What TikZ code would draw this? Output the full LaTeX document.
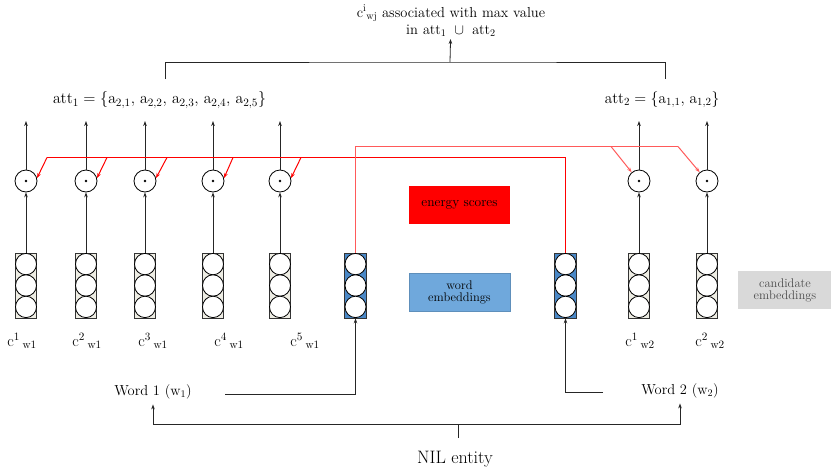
\RequirePackage{fix-cm}
\documentclass[tikz,border=0pt]{standalone}
\usetikzlibrary{arrows.meta}

\definecolor{cellbeige}{HTML}{EEEDE4}
\definecolor{embblue}{HTML}{4A88C7}
\definecolor{boxblue}{HTML}{6FA8DC}
\definecolor{boxgray}{HTML}{D9D9D9}
\definecolor{energyred}{HTML}{FF0000}
\definecolor{energypale}{HTML}{FF5A5A}

\newcommand\fsz[1]{\fontsize{#1}{1.2\dimexpr#1pt\relax}\selectfont}

\tikzset{
  every node/.style={inner sep=2pt},
  vecrect/.style={draw=black!80, line width=0.8pt, minimum width=21.5pt, minimum height=65pt, inner sep=0pt},
  cell/.style={draw=black, fill=white, line width=0.8pt},
  prod/.style={draw=black, circle, minimum size=22pt, inner sep=0pt, line width=0.8pt},
  arr/.style={draw=black!85, line width=0.8pt, -{Stealth[length=5pt,width=3.6pt]}},
  plain/.style={draw=black!85, line width=0.8pt},
  energy/.style={draw=energyred, line width=1pt},
  energytip/.style={energy, -{Stealth[length=5pt,width=3.6pt]}},
  energylight/.style={draw=energypale, line width=1pt},
  legend/.style={minimum width=101pt, minimum height=38pt, align=center, inner sep=0pt},
  clabel/.style={font=\fsz{16}},
}

\begin{document}
\begin{tikzpicture}[x=1pt, y=-1pt]
\useasboundingbox (0,0) rectangle (831,472);

% embedding stacks: three cells per vector
\foreach \n/\x/\f in {s1/26/cellbeige, s2/86/cellbeige, s3/145/cellbeige, s4/213/cellbeige,
                      s5/280/cellbeige, b1/355.5/embblue, b2/565.5/embblue, s6/639/cellbeige, s7/707/cellbeige} {
  \node[vecrect, fill=\f] (\n) at (\x,285.5) {};
  \foreach \k in {-1,0,1}
    \draw[cell] (\x,285.5+\k*21.4) ellipse [x radius=10.5pt, y radius=10.7pt];
}

% product nodes and their outputs
\foreach \i/\x in {1/26, 2/86, 3/145, 4/213, 5/280, 6/639, 7/707} {
  \node[prod] (o\i) at (\x,181) {};
  \fill (o\i.center) circle (1.4pt);
  \coordinate (t\i) at (\x,121);
  \draw[arr] (o\i) -- (t\i);
}
\draw[arr] (s1) -- (o1);
\draw[arr] (s2) -- (o2);
\draw[arr] (s3) -- (o3);
\draw[arr] (s4) -- (o4);
\draw[arr] (s5) -- (o5);
\draw[arr] (s6) -- (o6);
\draw[arr] (s7) -- (o7);

% candidate labels
\node[clabel] (c1) at (22,341) {c$^{1}\,$$_{\mathrm{w1}}$};
\node[clabel] (c2) at (87,341) {c$^{2}\,$$_{\mathrm{w1}}$};
\node[clabel] (c3) at (153,341) {c$^{3}\,$$_{\mathrm{w1}}$};
\node[clabel] (c4) at (229,341) {c$^{4}\,$$_{\mathrm{w1}}$};
\node[clabel] (c5) at (305,341) {c$^{5}\,$$_{\mathrm{w1}}$};
\node[clabel] (c6) at (640,341) {c$^{1}\,$$_{\mathrm{w2}}$};
\node[clabel] (c7) at (710,341) {c$^{2}\,$$_{\mathrm{w2}}$};

% energy scores from word 2 onto the candidates of word 1
\coordinate (r1) at (47,157.5);
\coordinate (r2) at (107,157.5);
\coordinate (r3) at (167,157.5);
\coordinate (r4) at (233,157.5);
\coordinate (r5) at (301,157.5);
\draw[energy] (b2.north) |- (r1);
\draw[energytip] (r1) -- (o1.15);
\draw[energytip] (r2) -- (o2.15);
\draw[energytip] (r3) -- (o3.15);
\draw[energytip] (r4) -- (o4.15);
\draw[energytip] (r5) -- (o5.15);

% energy scores from word 1 onto the candidates of word 2
\coordinate (u1) at (611,146.5);
\coordinate (u2) at (678,146.5);
\draw[energylight] (b1.north) |- (u2);
\draw[energylight, -{Stealth[length=5pt,width=3.6pt]}] (u2) -- (o7.130);
\draw[energylight, -{Stealth[length=5pt,width=3.6pt]}] (u1) -- (o6.130);

% attention sets
\node[font=\fsz{16}] (att1) at (159.5,100)
  {$\mathrm{att}_1 = \{\mathrm{a}_{2,1}{,}\ \mathrm{a}_{2,2}{,}\ \mathrm{a}_{2,3}{,}\ \mathrm{a}_{2,4}{,}\ \mathrm{a}_{2,5}\}$};
\node[font=\fsz{15.6}] (att2) at (662,100)
  {$\mathrm{att}_2 = \{\mathrm{a}_{1,1}{,}\ \mathrm{a}_{1,2}\}$};

% merge of both sets
\coordinate (bl) at (165,79);
\coordinate (br) at (665,79);
\coordinate (bm) at (450,62);
\node[font=\fsz{14.5}, align=center] (result) at (451,21)
  {c$^{\mathrm{i}}$$_{\mathrm{wj}}$ associated with max value\\in $\mathrm{att}_1\ \cup\ \mathrm{att}_2$};
\draw[plain] (bl) |- (bm) -| (br);
\draw[arr] (bm) -- (result);

% legend boxes
\node[legend, fill=energyred, font=\fsz{13.5}] (lenergy) at (459.5,205) {energy scores};
\node[legend, fill=boxblue, draw=boxblue!85!black, line width=0.5pt, font=\fsz{12.5}] (lword) at (459.5,292)
  {word\\[-3pt]embeddings};
\node[legend, fill=boxgray, minimum width=94pt, text=black!70, font=\fsz{12.5}] (lcand) at (785,290)
  {candidate\\[-3pt]embeddings};

% words and the NIL entity
\node[font=\fsz{14.5}, inner sep=5pt] (w1) at (153,392) {Word 1 (w$_1$)};
\node[font=\fsz{14.5}, inner sep=5pt] (w2) at (680,391) {Word 2 (w$_2$)};
\coordinate (w1e) at (225,394);
\coordinate (w2e) at (603,392);
\draw[arr] (w1e) -| (b1.south);
\draw[arr] (w2e) -| (b2.south);

\node[font=\fsz{18}] (nil) at (455,459) {NIL entity};
\coordinate (nt) at (458,438);
\coordinate (nb) at (458,424);
\draw[plain] (nt) -- (nb);
\draw[arr] (nb) -| (w1);
\draw[arr] (nb) -| (w2);
\end{tikzpicture}
\end{document}
